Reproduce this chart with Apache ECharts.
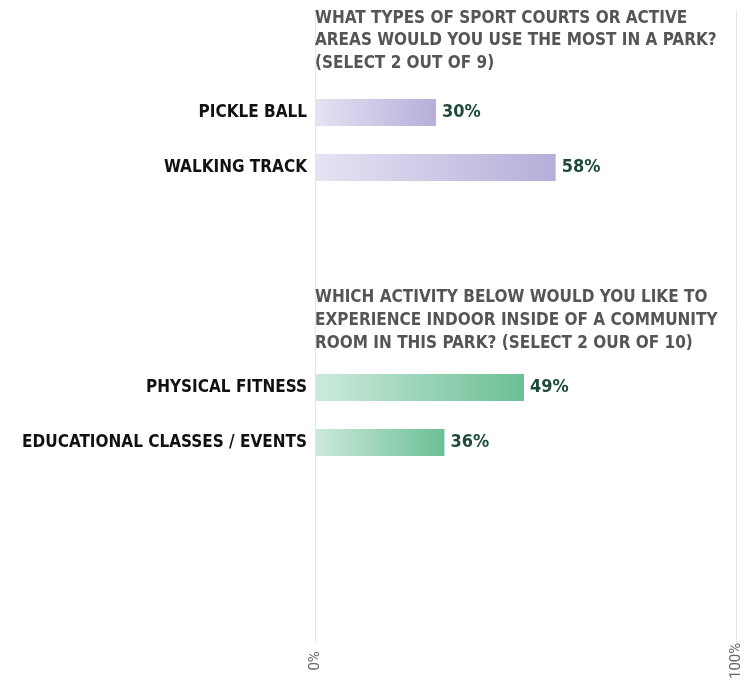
<!DOCTYPE html>
<html>
<head>
<meta charset="utf-8">
<script src="https://cdn.jsdelivr.net/npm/echarts@6/dist/echarts.min.js"></script>
<style>
	html, body {margin: 0; padding: 0; background: #fff;}
	#chart {width: 744px; height: 682px;}
</style>
</head>
<body>
<div id="chart"></div>
<script>
	// rows, top to bottom; blank rows leave room for the second question
	var categories = ['PICKLE BALL', 'WALKING TRACK', '', '', '', 'PHYSICAL FITNESS', 'EDUCATIONAL CLASSES / EVENTS', '', '', ''];
	// bar lengths as drawn (percent of the 0-100 axis)
	var courtValues = [28.6, 56.9, null, null, null, null, null, null, null, null];
	var indoorValues = [null, null, null, null, null, 49.4, 30.6, null, null, null];
	// printed labels
	var valueLabels = ['30%', '58%', '', '', '', '49%', '36%', '', '', ''];
	var axisTicks = [0, 100];

	var question1 = 'WHAT TYPES OF SPORT COURTS OR ACTIVE\nAREAS WOULD YOU USE THE MOST IN A PARK?\n(SELECT 2 OUT OF 9)';
	var question2 = 'WHICH ACTIVITY BELOW WOULD YOU LIKE TO\nEXPERIENCE INDOOR INSIDE OF A COMMUNITY\nROOM IN THIS PARK? (SELECT 2 OUR OF 10)';

	var font = '"DejaVu Sans Condensed", "Liberation Sans Narrow", sans-serif';

	function grad(c1, c2){
		return new echarts.graphic.LinearGradient(0, 0, 1, 0, [
			{offset: 0, color: c1},
			{offset: 1, color: c2}
		]);
	}

	function labelFmt(p){
		return valueLabels[p.dataIndex];
	}

	var chart = echarts.init(document.getElementById('chart'));
	chart.setOption({
		animation: false,
		title: [
			{text: question1, left: 315, top: 7, padding: 0, textStyle: {fontFamily: font, fontSize: 17, fontWeight: 'bold', color: '#555', lineHeight: 22.5}},
			{text: question2, left: 315, top: 286, padding: 0, textStyle: {fontFamily: font, fontSize: 17, fontWeight: 'bold', color: '#555', lineHeight: 23}}
		],
		grid: [
			{left: 315, right: 6, top: 85, bottom: 47},
			{left: 315, right: 6, top: 10, bottom: 33}
		],
		xAxis: [
			{type: 'value', gridIndex: 0, min: 0, max: 100, show: false},
			{
				type: 'value', gridIndex: 1, min: axisTicks[0], max: axisTicks[1], interval: 100,
				axisLine: {show: false},
				axisTick: {show: false},
				splitLine: {show: true, lineStyle: {color: '#e6e6e6', width: 1}},
				axisLabel: {
					formatter: '{value}%', rotate: 90, align: 'center', margin: 18,
					fontFamily: 'Roboto, sans-serif', fontSize: 15, color: '#666'
				}
			}
		],
		yAxis: [
			{
				type: 'category', gridIndex: 0, data: categories, inverse: true,
				axisLine: {show: false},
				axisTick: {show: false},
				axisLabel: {fontFamily: font, fontSize: 17, fontWeight: 'bold', color: '#111', margin: 8}
			},
			{type: 'value', gridIndex: 1, show: false}
		],
		series: [
			{
				type: 'bar', xAxisIndex: 0, yAxisIndex: 0, stack: 'all', barWidth: 27,
				data: courtValues,
				itemStyle: {color: grad('#e6e3f3', '#b6aed9')},
				label: {show: true, position: 'right', distance: 6, formatter: labelFmt,
					fontFamily: font, fontSize: 18, fontWeight: 'bold', color: '#1d4a3c'}
			},
			{
				type: 'bar', xAxisIndex: 0, yAxisIndex: 0, stack: 'all', barWidth: 27,
				data: indoorValues,
				itemStyle: {color: grad('#cdeadc', '#6bbf95')},
				label: {show: true, position: 'right', distance: 6, formatter: labelFmt,
					fontFamily: font, fontSize: 18, fontWeight: 'bold', color: '#1d4a3c'}
			}
		]
	});
</script>
</body>
</html>
